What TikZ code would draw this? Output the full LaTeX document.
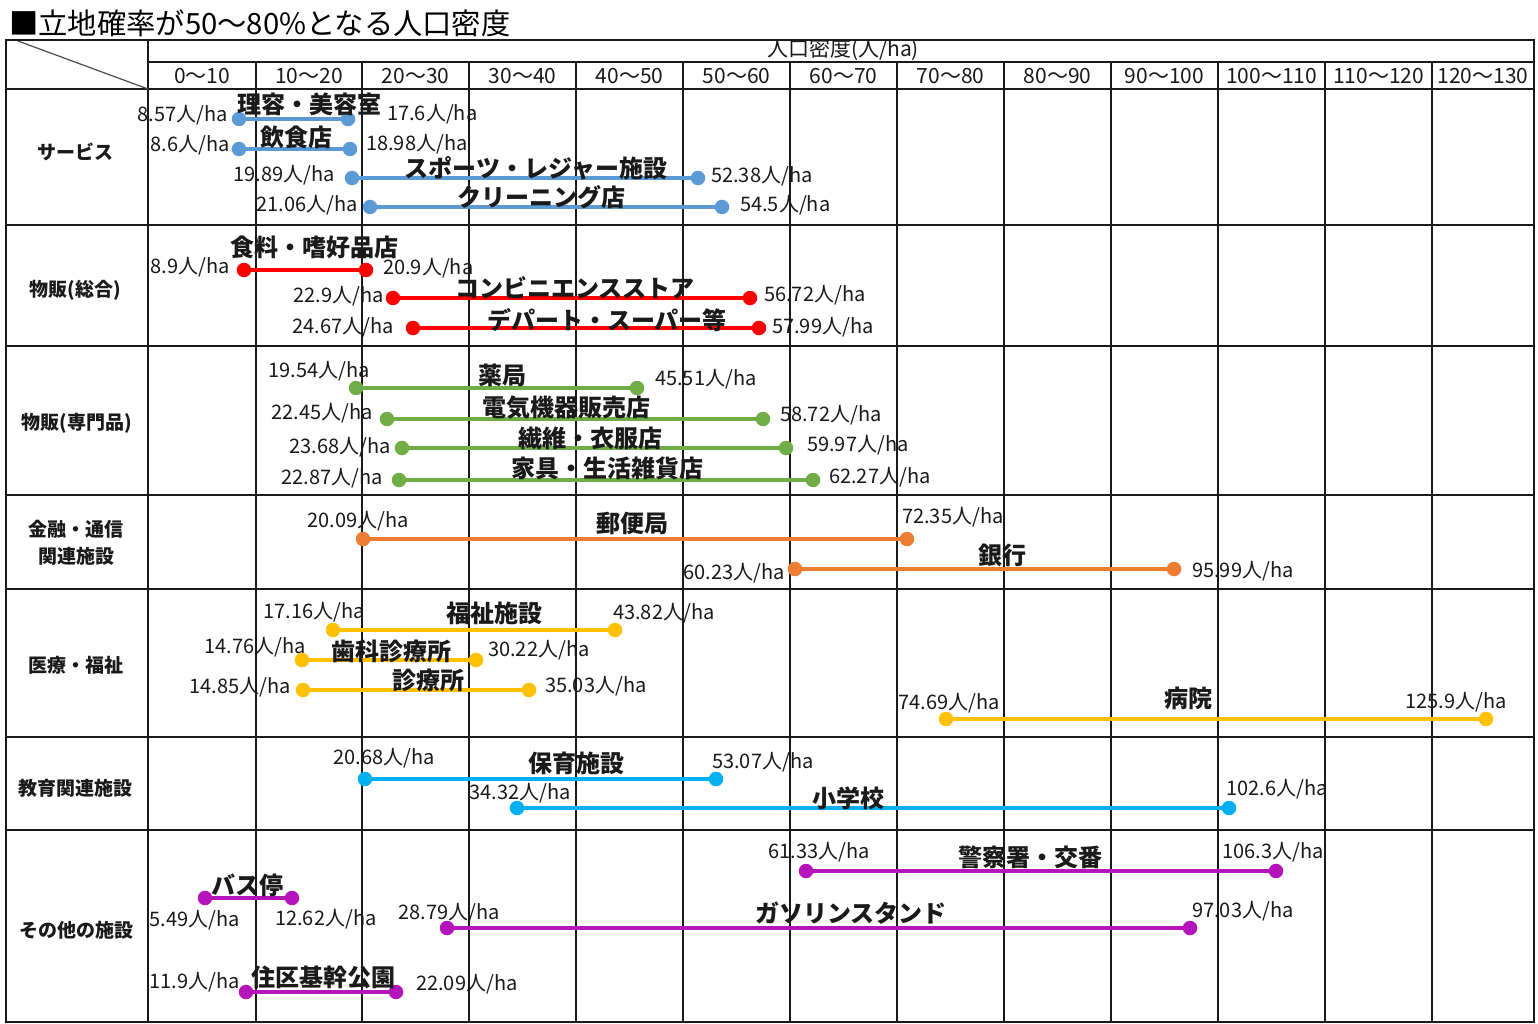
\documentclass[tikz,border=0pt]{standalone}
\usepackage{fontspec}
\setmainfont{Noto Sans CJK JP}
\newfontfamily\jpfont{Noto Sans CJK JP}
\newcommand\numfont{\jpfont\fontsize{20pt}{22pt}\selectfont}
\newcommand\facfont{\jpfont\bfseries\fontsize{24pt}{26pt}\selectfont}
\newcommand\catfont{\jpfont\bfseries\fontsize{19pt}{27pt}\selectfont}
\newcommand\colfont{\jpfont\fontsize{21pt}{24pt}\selectfont}
\newcommand\hdrfont{\jpfont\fontsize{21pt}{24pt}\selectfont}
\newcommand\ttlfont{\jpfont\fontsize{29.3pt}{32pt}\selectfont}
\definecolor{cblue}{HTML}{5B9BD5}
\definecolor{cred}{HTML}{FF0000}
\definecolor{cgreen}{HTML}{70AD47}
\definecolor{corange}{HTML}{ED7D31}
\definecolor{cyellow}{HTML}{FFC000}
\definecolor{ccyan}{HTML}{00B0F0}
\definecolor{cpurple}{HTML}{B414BA}
\definecolor{ink}{HTML}{1A1A1A}
\begin{document}
\begin{tikzpicture}[x=1pt,y=-1pt,
  gridline/.style={line width=1.4pt, draw=ink},
  gridthick/.style={line width=2.2pt, draw=ink},
  gridborder/.style={line width=2pt, draw=ink},
  diag/.style={line width=1.2pt, draw=black!70},
  dot/.style={circle, fill=#1, draw=none, inner sep=0pt, minimum size=14.5pt},
  bar/.style={line width=4pt, draw=#1},
  num/.style={font=\numfont, inner sep=0pt, text=ink},
  fac/.style={font=\facfont, inner sep=0pt, text=ink},
  cat/.style={font=\catfont, inner sep=0pt, align=center, text=ink},
  colh/.style={font=\colfont, inner sep=0pt, text=ink},
  hdr/.style={font=\hdrfont, inner sep=0pt, text=ink},
  ttl/.style={font=\ttlfont, inner sep=0pt, text=black}]
\useasboundingbox (0,0) rectangle (1538,1024);
\fill[white] (0,0) rectangle (1538,1024);

% title
\node[ttl, anchor=base west] (title) at (9,35) {■立地確率が50〜80\%となる人口密度};

% grid
\foreach \yy in {89,225,346,495,589,737,830}
  \draw[gridline] (6,\yy) -- (1534,\yy);
\draw[gridline] (148,62) -- (1534,62);
\foreach \xx in {256,683,790,1218,1325}
  \draw[gridline] (\xx,62) -- (\xx,1022);
\foreach \xx in {362,469,576,897,1004,1111,1432}
  \draw[gridthick] (\xx,62) -- (\xx,1022);
\draw[gridline] (148,40) -- (148,1022);
\draw[diag] (18,41) -- (148,89);

% header
\begin{scope}
  \clip (150,41) rectangle (1532,61);
  \node[hdr, anchor=base] (hdr) at (843,57) {人口密度(人/ha)};
\end{scope}
\foreach \xa/\xb/\lab [count=\k] in {148/256/0〜10, 256/362/10〜20, 362/469/20〜30,
  469/576/30〜40, 576/683/40〜50, 683/790/50〜60, 790/897/60〜70, 897/1004/70〜80,
  1004/1111/80〜90, 1111/1218/90〜100, 1218/1325/100〜110, 1325/1432/110〜120,
  1432/1534/120〜130}
  \node[colh] (col\k) at ({(\xa+\xb)/2},76) {\lab};

% categories
\node[cat] (cat1) at (75,152) {サービス};
\node[cat] (cat2) at (75,290) {物販(総合)};
\node[cat] (cat3) at (77,423) {物販(専門品)};
\node[cat] (cat4) at (76,543) {金融・通信\\関連施設};
\node[cat] (cat5) at (76,665) {医療・福祉};
\node[cat] (cat6) at (75,788) {教育関連施設};
\node[cat] (cat7) at (76,930) {その他の施設};

% bars
\foreach \id/\col/\xa/\xb/\yy/\nm/\nx/\ny/\lv/\lx/\ly/\rv/\rx/\ry in {
 a/cblue/239/348/119/理容・美容室/309/104/8.57/228/115/17.6/387/114,
 b/cblue/239/350/149/飲食店/296/137/8.6/230/145/18.98/366/144,
 c/cblue/352/698/178/スポーツ・レジャー施設/536/168/19.89/335/175/52.38/711/176,
 d/cblue/370/722/207/クリーニング店/541/197/21.06/358/205/54.5/740/205,
 e/cred/244/366/270/食料・嗜好品店/314/247/8.9/230/267/20.9/383/268,
 f/cred/393/750/298/コンビニエンスストア/575/288/22.9/384/296/56.72/764/295,
 g/cred/413/759/328/デパート・スーパー等/607/320/24.67/394/327/57.99/772/327,
 h/cgreen/356/637/388/薬局/502/375/19.54/370/371/45.51/655/379,
 i/cgreen/387/763/419/電気機器販売店/566/408/22.45/373/413/58.72/780/415,
 j/cgreen/402/786/448/繊維・衣服店/590/438/23.68/391/447/59.97/807/445,
 k/cgreen/399/813/480/家具・生活雑貨店/607/468/22.87/383/478/62.27/829/477,
 l/corange/363/907/539/郵便局/632/523/20.09/409/521/72.35/902/517,
 m/corange/795/1174/569/銀行/1002/555/60.23/785/573/95.99/1192/571,
 n/cyellow/333/615/630/福祉施設/494/613/17.16/365/612/43.82/613/613,
 o/cyellow/302/476/660/歯科診療所/391/651/14.76/306/647/30.22/488/650,
 p/cyellow/303/529/690/診療所/428/680/14.85/291/687/35.03/545/686,
 q/cyellow/946/1486/719/病院/1188/698/74.69/1000/703/125.9/1405/702,
 r/ccyan/365/716/779/保育施設/576/763/20.68/435/758/53.07/712/762,
 s/ccyan/517/1229/808/小学校/848/798/34.32/571/793/102.6/1226/789,
 t/cpurple/205/292/898/バス停/247/885/5.49/240/920/12.62/275/919,
 u/cpurple/246/396/992/住区基幹公園/323/977/11.9/240/982/22.09/416/984,
 v/cpurple/447/1190/928/ガソリンスタンド/851/913/28.79/500/913/97.03/1192/911,
 w/cpurple/806/1276/871/警察署・交番/1030/857/61.33/870/852/106.3/1222/852}
{
  \node[dot=\col] (\id-a) at (\xa,\yy) {};
  \node[dot=\col] (\id-b) at (\xb,\yy) {};
  \draw[bar=\col] (\id-a) -- (\id-b);
  \node[num, anchor=east] (\id-l) at (\lx,\ly) {\lv{}人/ha};
  \node[num, anchor=west] (\id-r) at (\rx,\ry) {\rv{}人/ha};
  \node[fac] (\id-n) at (\nx,\ny) {\nm};
}

% outer border
\draw[gridborder] (6,40) rectangle (1534,1022);
\end{tikzpicture}
\end{document}
